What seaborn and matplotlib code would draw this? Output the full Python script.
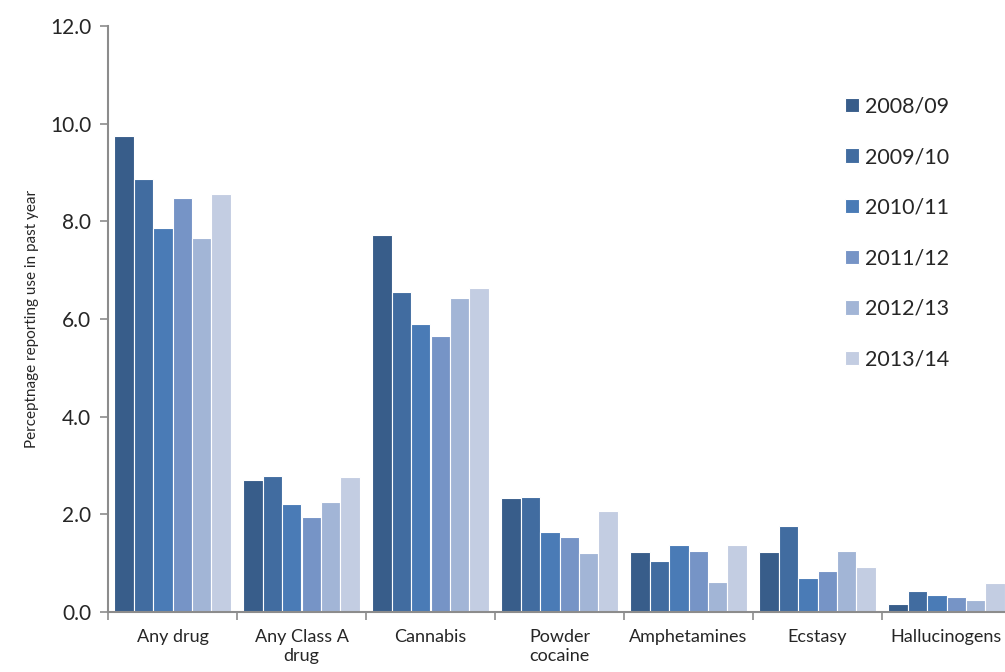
import matplotlib
matplotlib.use("Agg")
import matplotlib.pyplot as plt
import seaborn as sns
import pandas as pd
import numpy as np

# Datos
categorias = ["Any drug", "Any Class A\ndrug", "Cannabis", "Powder\ncocaine",
              "Amphetamines", "Ecstasy", "Hallucinogens"]
anios = ["2008/09", "2009/10", "2010/11", "2011/12", "2012/13", "2013/14"]
valores = {
    "2008/09": [9.75, 2.70, 7.73, 2.33, 1.22, 1.23, 0.17],
    "2009/10": [8.86, 2.79, 6.55, 2.36, 1.05, 1.77, 0.42],
    "2010/11": [7.86, 2.21, 5.89, 1.64, 1.38, 0.69, 0.34],
    "2011/12": [8.47, 1.95, 5.65, 1.54, 1.24, 0.83, 0.30],
    "2012/13": [7.65, 2.25, 6.44, 1.20, 0.61, 1.24, 0.24],
    "2013/14": [8.56, 2.77, 6.64, 2.07, 1.37, 0.92, 0.59],
}
colores = ["#385D8A", "#416CA0", "#4A7BB6", "#7694C6", "#A2B5D6", "#C3CDE2"]

filas = []
for a in anios:
    for c, v in zip(categorias, valores[a]):
        filas.append({"Categoria": c, "Anio": a, "Valor": v})
df = pd.DataFrame(filas)

sns.set_style("white")
plt.rcParams["font.family"] = ["Lato", "DejaVu Sans"]

fig = plt.figure(figsize=(10.05, 6.72), dpi=100)
ax = fig.add_axes([108 / 1005, 60 / 672, 903 / 1005, 586 / 672])

sns.barplot(data=df, x="Categoria", y="Valor", hue="Anio", order=categorias,
            hue_order=anios, palette=colores, width=0.9, saturation=1,
            edgecolor="white", linewidth=0.8, ax=ax)

ax.set_xlim(-0.5, 6.5)
ax.set_ylim(0, 12)
ax.set_yticks(np.arange(0, 12.1, 2))
ax.set_yticklabels([f"{v:.1f}" for v in np.arange(0, 12.1, 2)], fontsize=15)
ax.set_xticks(range(len(categorias)))
ax.set_xticklabels(categorias, fontsize=13, linespacing=1.25)
ax.set_xticks(np.arange(-0.5, 7, 1), minor=True)
ax.tick_params(axis="x", which="major", length=0, pad=12)
ax.tick_params(axis="x", which="minor", length=6, width=1.2, color="#8c8c8c", direction="out", bottom=True)
ax.tick_params(axis="y", length=6, width=1.2, color="#8c8c8c", direction="out", left=True, pad=6)
ax.set_xlabel("")
ax.set_ylabel("Perceptnage reporting use in past year", fontsize=11, labelpad=8)

for s in ["top", "right"]:
    ax.spines[s].set_visible(False)
for s in ["left", "bottom"]:
    ax.spines[s].set_color("#8c8c8c")
    ax.spines[s].set_linewidth(1.5)

ax.legend(loc="upper left", bbox_to_anchor=(836 / 1005, 1 - 88 / 672),
          bbox_transform=fig.transFigure, frameon=False, fontsize=15.5,
          handlelength=0.65, handleheight=0.65, handletextpad=0.3,
          labelspacing=1.42, borderaxespad=0)

fig.savefig("out.png", dpi=100)
